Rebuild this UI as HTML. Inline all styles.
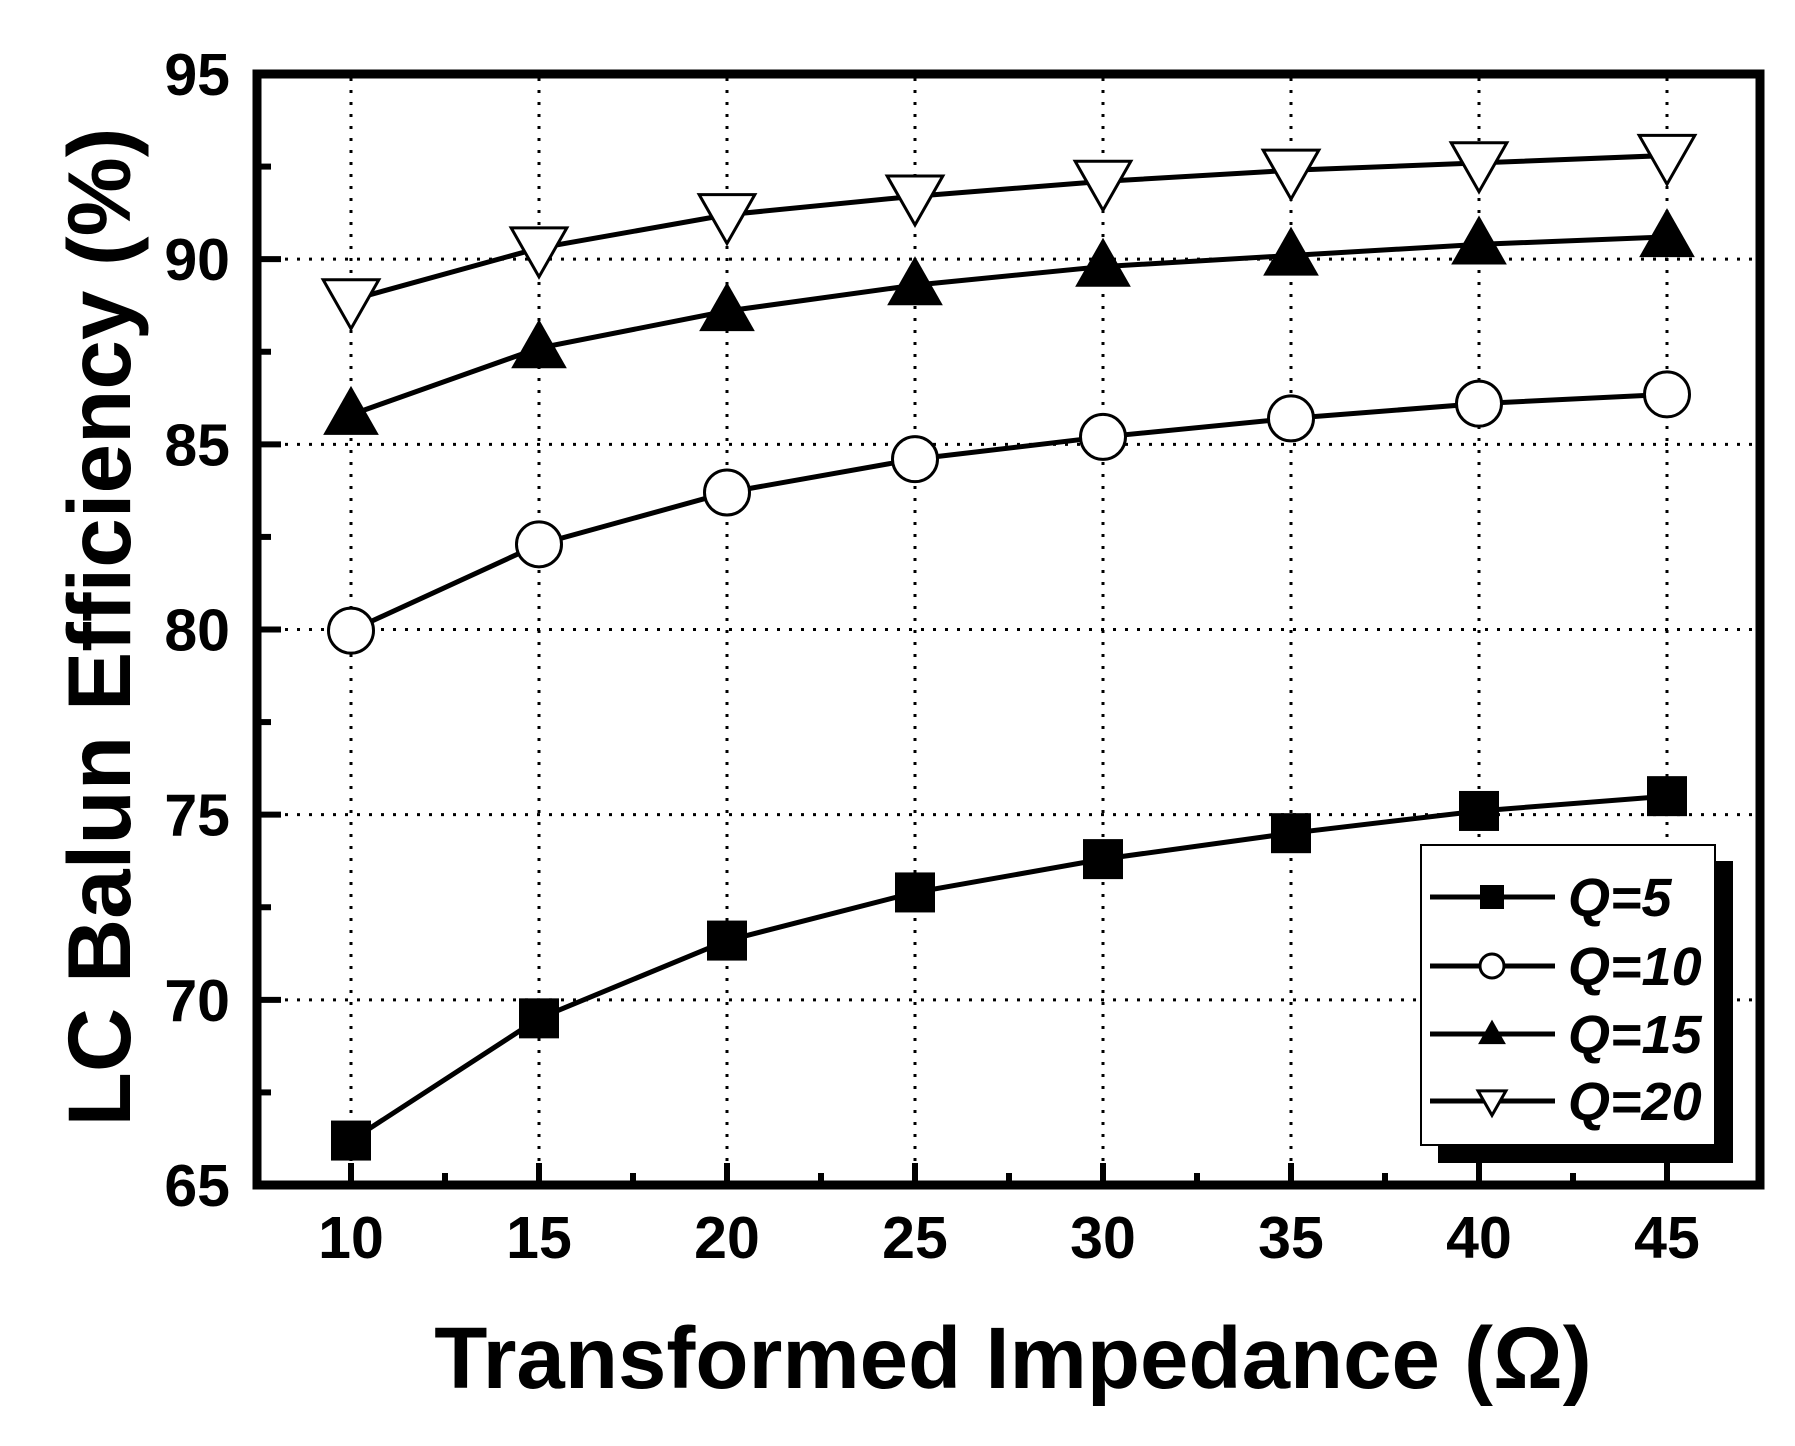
<!DOCTYPE html>
<html><head><meta charset="utf-8"><style>
html,body{margin:0;padding:0;background:#fff}
svg{display:block}
text{font-family:"Liberation Sans",Arial,sans-serif;font-weight:bold;fill:#000}
</style></head><body>
<svg id="chart" width="1795" height="1446" viewBox="0 0 1795 1446" xmlns="http://www.w3.org/2000/svg">
<g id="grid"></g>
<g id="ticks"></g>
<g id="series"></g>
<rect x="257" y="74" width="1503" height="1111" fill="none" stroke="#000" stroke-width="9"/>
<g id="labels"></g>
<text x="1013" y="1388" font-size="87" text-anchor="middle">Transformed Impedance (Ω)</text>
<text x="0" y="0" font-size="89" text-anchor="middle" transform="translate(130,627) rotate(-90)">LC Balun Efficiency (%)</text>
<g>
<rect x="1438" y="861" width="295" height="302" fill="#000"/>
<rect x="1421" y="845" width="294" height="300" fill="#fff" stroke="#000" stroke-width="2"/>
<g id="legendEntries"></g>
</g>
</svg>
<script>
const xValues=[10,15,20,25,30,35,40,45];
const q5=[66.2,69.5,71.6,72.9,73.8,74.5,75.1,75.5];
const q10=[79.97,82.3,83.7,84.6,85.2,85.7,86.1,86.35];
const q15=[85.8,87.6,88.6,89.3,89.8,90.1,90.4,90.6];
const q20=[88.9,90.3,91.2,91.7,92.1,92.4,92.6,92.8];
const seriesNames=["Q=5","Q=10","Q=15","Q=20"];
const xTicks=[10,15,20,25,30,35,40,45];
const yTicks=[65,70,75,80,85,90,95];

const NS="http://www.w3.org/2000/svg";
function X(v){return 351+(v-10)*(1667-351)/35;}
function Y(v){return 1185-(v-65)*(1185-74)/30;}
function mk(tag,attrs,parent){const e=document.createElementNS(NS,tag);for(const k in attrs)e.setAttribute(k,attrs[k]);parent.appendChild(e);return e;}
const grid=document.getElementById('grid'),ticks=document.getElementById('ticks'),labels=document.getElementById('labels'),ser=document.getElementById('series'),leg=document.getElementById('legendEntries');

xTicks.forEach(v=>{
  const l=mk('line',{x1:X(v),x2:X(v),y1:78,y2:1181,stroke:'#000','stroke-width':3,'stroke-dasharray':'3 9'},grid);
  
  
  const t=mk('line',{x1:X(v),x2:X(v),y1:1185,y2:1163,stroke:'#000','stroke-width':6},ticks);
  
  
  const tl=mk('text',{x:X(v),y:1258,'font-size':59,'text-anchor':'middle'},labels);tl.textContent=v;
  
  
  if(v<45){const m=mk('line',{x1:X(v+2.5),x2:X(v+2.5),y1:1185,y2:1173,stroke:'#000','stroke-width':6},ticks);
    
    }
});
yTicks.forEach(v=>{
  if(v>65&&v<95){const g=mk('line',{x1:261,x2:1756,y1:Y(v),y2:Y(v),stroke:'#000','stroke-width':3,'stroke-dasharray':'3 9'},grid);
    
    }
  const t=mk('line',{x1:257,x2:281,y1:Y(v),y2:Y(v),stroke:'#000','stroke-width':6},ticks);
  
  
  const tl=mk('text',{x:230,y:Y(v)+21,'font-size':59,'text-anchor':'end'},labels);tl.textContent=v;
  
  
  if(v<95){const m=mk('line',{x1:257,x2:271,y1:Y(v+2.5),y2:Y(v+2.5),stroke:'#000','stroke-width':6},ticks);
    
    }
});

function marker(type,cx,cy,s,parent){
  let e;
  if(type==='square')e=mk('rect',{x:cx-s/2,y:cy-s/2,width:s,height:s,fill:'#000'},parent);
  else if(type==='circle')e=mk('circle',{cx:cx,cy:cy,r:s/2,fill:'#fff',stroke:'#000','stroke-width':3},parent);
  else if(type==='up')e=mk('polygon',{points:`${cx-s*0.58},${cy+s*0.42} ${cx+s*0.58},${cy+s*0.42} ${cx},${cy-s*0.6}`,fill:'#000'},parent);
  else e=mk('polygon',{points:`${cx-s*0.58},${cy-s*0.42} ${cx+s*0.58},${cy-s*0.42} ${cx},${cy+s*0.6}`,fill:'#fff',stroke:'#000','stroke-width':3},parent);
  return e;
}
const allSeries=[q5,q10,q15,q20];
const types=['square','circle','up','down'];
const sizes=[40,45,48,48];
allSeries.forEach((data,i)=>{
  const g=mk('g',{},ser);
  
  
  const pts=data.map((v,j)=>X(xValues[j])+','+Y(v)).join(' ');
  const pl=mk('polyline',{points:pts,fill:'none',stroke:'#000','stroke-width':5},g);
  
  
  data.forEach((v,j)=>{
    const m=marker(types[i],X(xValues[j]),Y(v),sizes[i],g);
    
    
  });
});
const legY=[897,966,1034,1101];
seriesNames.forEach((n,i)=>{
  const g=mk('g',{},leg);
  
  
  mk('line',{x1:1430,x2:1555,y1:legY[i],y2:legY[i],stroke:'#000','stroke-width':5},g);
  marker(types[i],1492,legY[i],24,g);
  const t=mk('text',{x:1568,y:legY[i]+19,'font-size':54,'font-style':'italic'},g);t.textContent=n;
});
</script>
</body></html>
